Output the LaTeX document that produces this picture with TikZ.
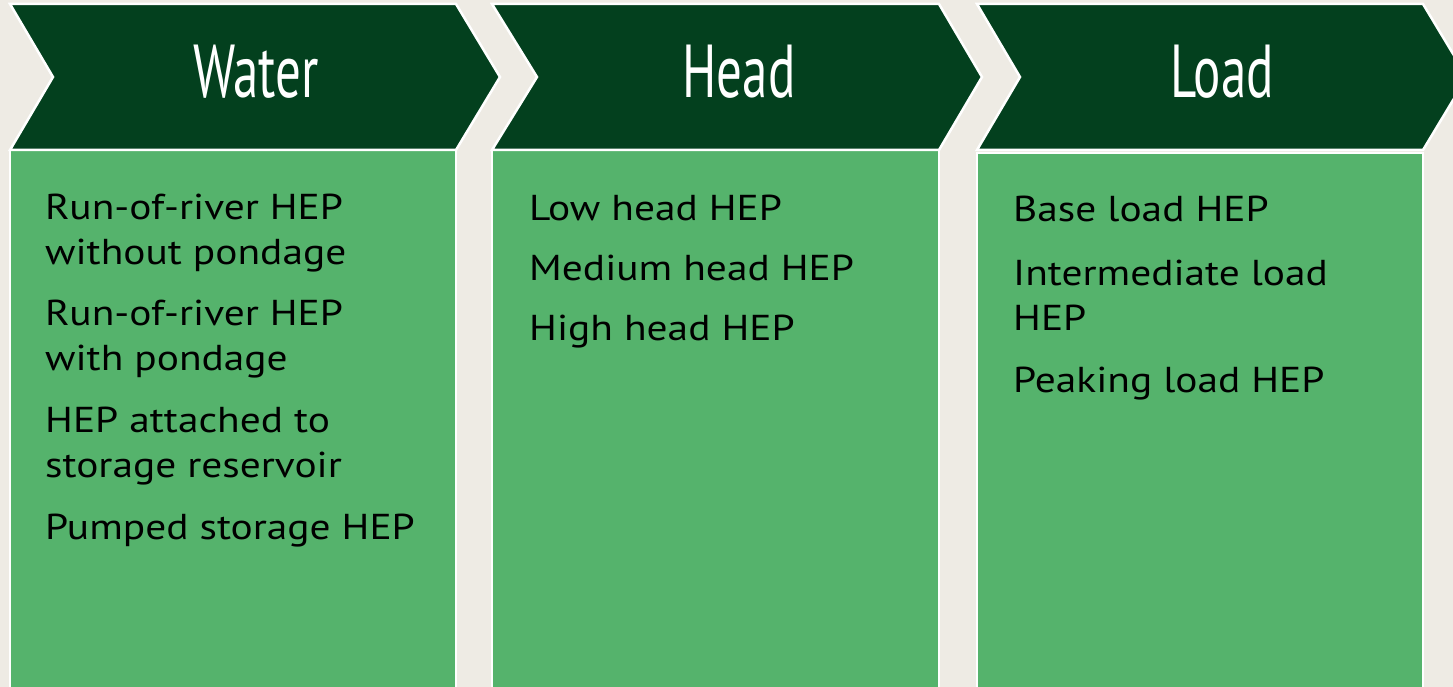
\documentclass[tikz,border=0pt]{standalone}
\usepackage{fontspec}
\setmainfont[FakeStretch=1.15]{PT Sans}
\newfontfamily\headfont[FakeStretch=0.68]{PT Sans}
\definecolor{bgc}{HTML}{EEEBE4}
\definecolor{darkg}{HTML}{03401E}
\definecolor{lightg}{HTML}{55B36C}
\tikzset{
  chev/.style={fill=darkg, draw=white, line width=2.5pt, line join=miter},
  colbox/.style={fill=lightg, draw=white, line width=2.5pt},
  headtxt/.style={text=white, font=\headfont\fontsize{75}{80}\selectfont, inner sep=0pt},
  item/.style={anchor=base west, inner sep=0pt, font=\fontsize{36}{45}\selectfont, text=black},
}
\begin{document}
\begin{tikzpicture}[x=1pt,y=-1pt]
\useasboundingbox (0,0) rectangle (1453,687);
\fill[bgc] (0,0) rectangle (1453,687);
\begin{scope}
\clip (0,0) rectangle (1453,687);
% boxes
\draw[colbox] (10,150) rectangle (456,700);
\draw[colbox] (492,150) rectangle (939,700);
\draw[colbox] (977,153) rectangle (1423,700);
% chevrons
\draw[chev] (10,4) -- (456,4) -- (500,77) -- (456,150) -- (10,150) -- (53,77) -- cycle;
\draw[chev] (492,4) -- (939,4) -- (982,77) -- (939,150) -- (492,150) -- (537,77) -- cycle;
\draw[chev] (977,4) -- (1423,4) -- (1467,77) -- (1423,150) -- (977,150) -- (1020,77) -- cycle;
\end{scope}
\node[headtxt, anchor=base] (hwater) at (256,98) {Water};
\node[headtxt, anchor=base] (hhead) at (739,98) {Head};
\node[headtxt, anchor=base] (hload) at (1222,98) {Load};
% Water column
\node[item] (w1a) at (45,219) {Run-of-river HEP};
\node[item] (w1b) at (45,264) {without pondage};
\node[item] (w2a) at (45,325) {Run-of-river HEP};
\node[item] (w2b) at (45,370) {with pondage};
\node[item] (w3a) at (45,432) {HEP attached to};
\node[item] (w3b) at (45,477) {storage reservoir};
\node[item] (w4) at (45,539) {Pumped storage HEP};
% Head column
\node[item] (h1) at (529,220) {Low head HEP};
\node[item] (h2) at (529,280) {Medium head HEP};
\node[item] (h3) at (529,340) {High head HEP};
% Load column
\node[item] (l1) at (1013,222) {Base load HEP};
\node[item] (l2a) at (1013,285) {Intermediate load};
\node[item] (l2b) at (1013,330) {HEP};
\node[item] (l3) at (1013,392) {Peaking load HEP};
\end{tikzpicture}
\end{document}
